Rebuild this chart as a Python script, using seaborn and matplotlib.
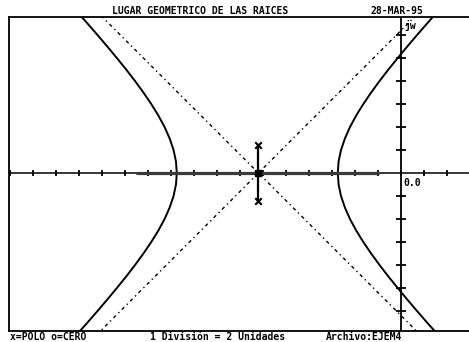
import numpy as np
import pandas as pd
import matplotlib
matplotlib.use("Agg")
import matplotlib.pyplot as plt
import seaborn as sns

# Open-loop poles (real part, imaginary part)
pole_re = [-12.4, -12.4]
pole_im = [2.4, -2.4]

# Locus branches read as (sigma, jw) points
branch_im = [-14, -13, -12, -11, -10, -9, -8, -7, -6, -5, -4, -3, -2, -1, 0,
             1, 2, 3, 4, 5, 6, 7, 8, 9, 10, 11, 12, 13, 14]
right_re = [3.15, 2.26, 1.39, 0.54, -0.29, -1.10, -1.87, -2.60, -3.28, -3.90,
            -4.44, -4.88, -5.22, -5.43, -5.50, -5.43, -5.22, -4.88, -4.44,
            -3.90, -3.28, -2.60, -1.87, -1.10, -0.29, 0.54, 1.39, 2.26, 3.15]
left_re = [-28.15, -27.26, -26.39, -25.54, -24.71, -23.90, -23.13, -22.40,
           -21.72, -21.10, -20.56, -20.12, -19.78, -19.57, -19.50, -19.57,
           -19.78, -20.12, -20.56, -21.10, -21.72, -22.40, -23.13, -23.90,
           -24.71, -25.54, -26.39, -27.26, -28.15]

# Segment of the locus on the real axis and between the complex poles
real_seg_re = [-23.0, -2.0]
vert_seg_im = [-2.4, 2.4]

# Asymptote centroid and scale
centroid = -12.4
units_per_div = 2

title = "LUGAR GEOMETRICO DE LAS RAICES"
date_txt = "28-MAR-95"
legend_txt = "x=POLO o=CERO"
scale_txt = f"1 División = {units_per_div} Unidades"
file_txt = "Archivo:EJEM4"

sns.set_theme(style="white")
plt.rcParams["font.family"] = ["DejaVu Sans Mono", "DejaVu Sans"]

W, H = 469, 342
fig = plt.figure(figsize=(W / 100, H / 100), dpi=100)
ax = fig.add_axes([9 / W, 11 / H, 1 - 9 / W, (331 - 17) / H])

xmin, xmax = -34.09, 5.91
ymin, ymax = -13.74, 13.57
ax.set_xlim(xmin, xmax)
ax.set_ylim(ymin, ymax)

for s in ["left", "top", "bottom"]:
    ax.spines[s].set_color("black")
    ax.spines[s].set_linewidth(1.3)
ax.spines["right"].set_visible(False)
ax.set_xticks([])
ax.set_yticks([])

# Axes of the s-plane
ax.axhline(0, color="black", lw=1.1, zorder=2)
ax.axvline(0, color="black", lw=1.3, zorder=2)

# Division ticks
xt = np.arange(0, xmin, -units_per_div)
xt = np.concatenate([xt, np.arange(units_per_div, xmax + 0.1, units_per_div)])
ax.plot(xt, np.zeros_like(xt), ls="none", marker="|", ms=4.5, mew=1.3,
        color="black", zorder=3)
yt = np.concatenate([np.arange(units_per_div, ymax, units_per_div),
                     -np.arange(units_per_div, -ymin, units_per_div)])
ax.plot(np.zeros_like(yt), yt, ls="none", marker="_", ms=7, mew=1.3,
        color="black", zorder=3)

# Asymptotes at +-45 degrees through the centroid
span = np.array([-40.0, 40.0])
ax.plot(centroid + span, span, color="black", lw=1.0,
        ls=(0, (2.5, 2.5, 1, 2.5)), zorder=2)
ax.plot(centroid + span, -span, color="black", lw=1.0,
        ls=(0, (2.5, 2.5, 1, 2.5)), zorder=2)

# Locus branches
df_r = pd.DataFrame({"re": right_re, "im": branch_im})
df_l = pd.DataFrame({"re": left_re, "im": branch_im})
sns.lineplot(data=df_r, x="re", y="im", sort=False, estimator=None,
             color="black", lw=1.4, ax=ax)
sns.lineplot(data=df_l, x="re", y="im", sort=False, estimator=None,
             color="black", lw=1.4, ax=ax)

ax.plot(real_seg_re, [0, 0], color="#3a3a3a", lw=2.3, zorder=3)
ax.plot([pole_re[0], pole_re[1]], vert_seg_im, color="black", lw=1.6, zorder=3)
ax.plot([centroid], [0], marker="s", ms=4, color="black", zorder=4)

# Poles
sns.scatterplot(x=pole_re, y=pole_im, marker="x", s=22, linewidth=1.5,
                color="black", ax=ax, zorder=5)

ax.set_xlabel("")
ax.set_ylabel("")

fs = 7
ax.text(0.2, -0.45, "0.0", fontsize=fs, fontweight="bold", ha="left",
        va="top", color="black")
ax.text(0.3, ymax - 0.3, "jw", fontsize=fs, fontweight="bold", ha="left",
        va="top", color="black")

fig.text(200 / W, 1 - 16 / H, title, fontsize=fs, fontweight="bold",
         ha="center", va="bottom", color="black")
fig.text(397 / W, 1 - 16 / H, date_txt, fontsize=fs, fontweight="bold",
         ha="center", va="bottom", color="black")
fig.text(10 / W, 1 - 337 / H, legend_txt, fontsize=fs, fontweight="bold",
         ha="left", va="center", color="black")
fig.text(150 / W, 1 - 337 / H, scale_txt, fontsize=fs, fontweight="bold",
         ha="left", va="center", color="black")
fig.text(326 / W, 1 - 337 / H, file_txt, fontsize=fs, fontweight="bold",
         ha="left", va="center", color="black")

fig.savefig("out.png", dpi=100, facecolor="white")
